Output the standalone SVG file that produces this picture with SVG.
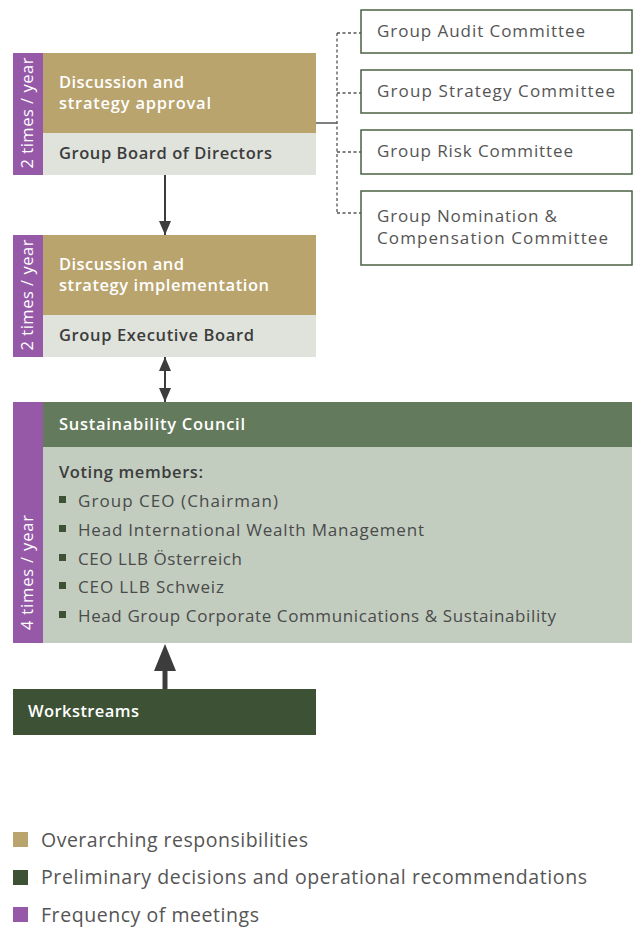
<svg xmlns="http://www.w3.org/2000/svg" width="638" height="927" viewBox="0 0 638 927">
<style>
text{font-family:"Open Sans","Liberation Sans",sans-serif}
.freq{fill:#9659a8}
.gold{fill:#b9a46e}
.lite{fill:#dfe3dc}
.hd{font-size:16.5px;font-weight:600;fill:#ffffff}
.nm{font-size:16.5px;font-weight:600;fill:#3c3c3c}
.vt{font-size:16.5px;fill:#ffffff}
.cbox{fill:#ffffff;stroke:#4b6142;stroke-width:1.5}
.ct{font-size:17px;fill:#555555}
.li{font-size:17px;fill:#4a4a4a}
.bul{fill:#3d5234}
.lg{font-size:19.5px;fill:#555555}
.solid{stroke:#3c3c3c;stroke-width:2;fill:none}
.dash{stroke:#555555;stroke-width:1.3;fill:none;stroke-dasharray:3 2.5}
</style>
<defs>
<marker id="ah" viewBox="0 0 14 12" refX="14" refY="6" markerWidth="14" markerHeight="12" orient="auto-start-reverse" markerUnits="userSpaceOnUse">
<path d="M0,0 L14,6 L0,12 z" fill="#3c3c3c"/>
</marker>
</defs>

<g id="board">
<rect class="freq" x="13" y="53" width="30" height="122"/>
<rect class="gold" x="43" y="53" width="273" height="80"/>
<rect class="lite" x="43" y="133" width="273" height="42"/>
<text class="vt" transform="translate(33,113) rotate(-90)" text-anchor="middle" textLength="111">2 times / year</text>
<text class="hd" x="59" y="88" textLength="125">Discussion and</text>
<text class="hd" x="59" y="109" textLength="152">strategy approval</text>
<text class="nm" x="59" y="159" textLength="213">Group Board of Directors</text>
</g>

<g id="executive">
<rect class="freq" x="13" y="235" width="30" height="122"/>
<rect class="gold" x="43" y="235" width="273" height="80"/>
<rect class="lite" x="43" y="315" width="273" height="42"/>
<text class="vt" transform="translate(33,295) rotate(-90)" text-anchor="middle" textLength="111">2 times / year</text>
<text class="hd" x="59" y="270" textLength="125">Discussion and</text>
<text class="hd" x="59" y="291" textLength="210">strategy implementation</text>
<text class="nm" x="59" y="341" textLength="195">Group Executive Board</text>
</g>

<g id="audit">
<rect class="cbox" x="361" y="10" width="271" height="43"/>
<text class="ct" x="377" y="37" textLength="208">Group Audit Committee</text>
</g>
<g id="strategy">
<rect class="cbox" x="361" y="70" width="271" height="43"/>
<text class="ct" x="377" y="97" textLength="238">Group Strategy Committee</text>
</g>
<g id="risk">
<rect class="cbox" x="361" y="130" width="271" height="44"/>
<text class="ct" x="377" y="157" textLength="196">Group Risk Committee</text>
</g>
<g id="nomination">
<rect class="cbox" x="361" y="191" width="271" height="74"/>
<text class="ct" x="377" y="222" textLength="180">Group Nomination &amp;</text>
<text class="ct" x="377" y="244" textLength="231">Compensation Committee</text>
</g>

<g id="council">
<rect class="freq" x="13" y="402" width="30" height="241"/>
<rect x="43" y="402" width="589" height="45" fill="#647a5c"/>
<rect x="43" y="447" width="589" height="196" fill="#c2cdc0"/>
<text class="vt" transform="translate(33,630) rotate(-90)" textLength="115">4 times / year</text>
<text class="hd" x="59" y="430" textLength="186">Sustainability Council</text>
<text class="nm" x="59" y="478" textLength="144">Voting members:</text>
<rect class="bul" x="59" y="496" width="7" height="7"/>
<text class="li" x="78" y="507" textLength="200">Group CEO (Chairman)</text>
<rect class="bul" x="59" y="525" width="7" height="7"/>
<text class="li" x="78" y="536" textLength="346">Head International Wealth Management</text>
<rect class="bul" x="59" y="554" width="7" height="7"/>
<text class="li" x="78" y="565" textLength="164">CEO LLB Österreich</text>
<rect class="bul" x="59" y="582" width="7" height="7"/>
<text class="li" x="78" y="593" textLength="146">CEO LLB Schweiz</text>
<rect class="bul" x="59" y="611" width="7" height="7"/>
<text class="li" x="78" y="622" textLength="478">Head Group Corporate Communications &amp; Sustainability</text>
</g>

<g id="workstreams">
<rect x="13" y="689" width="303" height="46" fill="#3d5234"/>
<text class="hd" x="28" y="717" textLength="111">Workstreams</text>
</g>

<g id="connectors">
<line class="solid" x1="165" y1="175" x2="165" y2="235" marker-end="url(#ah)"/>
<line class="solid" x1="165" y1="357" x2="165" y2="402" marker-start="url(#ah)" marker-end="url(#ah)"/>
<line x1="165" y1="689" x2="165" y2="668" stroke="#3c3c3c" stroke-width="5"/>
<path d="M165,644 L176,671 L154,671 z" fill="#3c3c3c"/>
<line x1="316" y1="123" x2="337" y2="123" stroke="#555555" stroke-width="1.5"/>
<path class="dash" d="M337,33 L337,213"/>
<path class="dash" d="M337,33 L361,33 M337,93 L361,93 M337,152 L361,152 M337,213 L361,213"/>
</g>

<g id="legend">
<rect x="13" y="832" width="15" height="15" fill="#b9a46e"/>
<text class="lg" x="41" y="847" textLength="267">Overarching responsibilities</text>
<rect x="13" y="870" width="15" height="15" fill="#3d5234"/>
<text class="lg" x="41" y="884" textLength="546">Preliminary decisions and operational recommendations</text>
<rect x="13" y="907" width="15" height="15" fill="#9659a8"/>
<text class="lg" x="41" y="922" textLength="218">Frequency of meetings</text>
</g>
</svg>
